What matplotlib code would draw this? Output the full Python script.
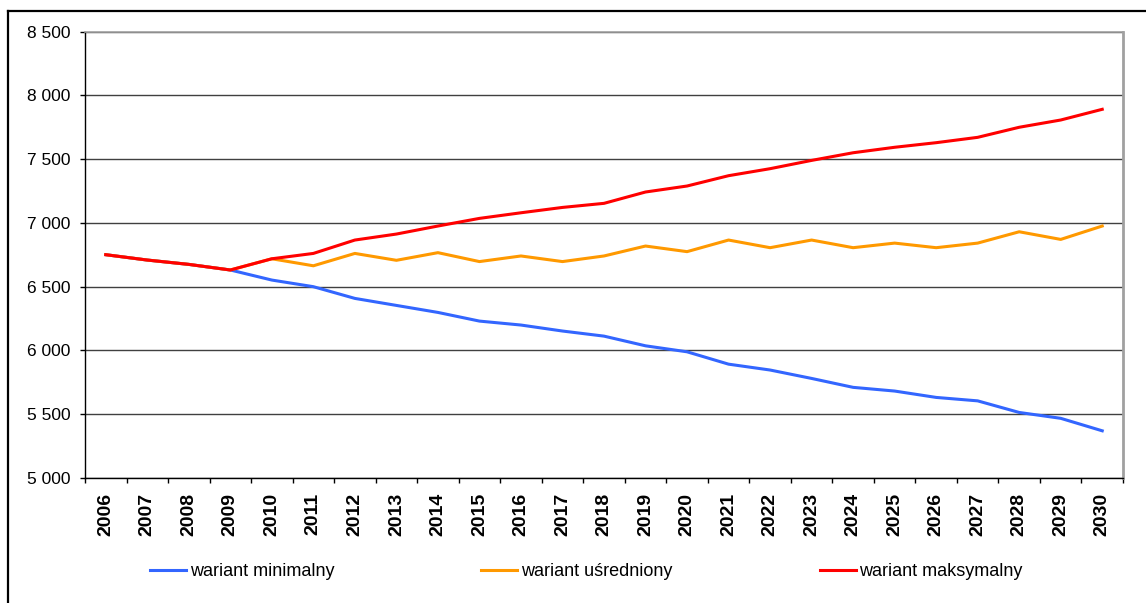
import matplotlib
matplotlib.use('Agg')
import matplotlib.pyplot as plt
from matplotlib.lines import Line2D
from matplotlib.ticker import FuncFormatter

plt.rcParams['font.family'] = ['Liberation Sans', 'DejaVu Sans']

years = [str(y) for y in range(2006, 2031)]
wariant_min = [6750, 6708, 6674, 6630, 6551, 6499, 6407, 6352, 6297, 6229, 6198, 6151, 6111,
               6035, 5988, 5891, 5845, 5779, 5709, 5680, 5630, 5603, 5512, 5466, 5368]
wariant_sr = [6750, 6708, 6674, 6630, 6718, 6663, 6760, 6706, 6766, 6696, 6740, 6696, 6740,
              6818, 6774, 6865, 6805, 6865, 6805, 6841, 6805, 6841, 6930, 6870, 6975]
wariant_max = [6750, 6708, 6674, 6630, 6718, 6760, 6865, 6912, 6975, 7035, 7079, 7121, 7153,
               7242, 7289, 7370, 7425, 7490, 7550, 7593, 7629, 7671, 7750, 7807, 7891]
labels = ['wariant minimalny', 'wariant uśredniony', 'wariant maksymalny']
kolory = ['#3366FF', '#FF9900', '#FF0000']

W, H = 1146, 603
fig = plt.figure(figsize=(W / 100, H / 100), dpi=100)
ax = fig.add_axes([85 / W, 1 - 477.7 / H, (1123 - 85) / W, (477.7 - 31.7) / H])

x = list(range(len(years)))
for serie, lab, kol in zip([wariant_min, wariant_sr, wariant_max], labels, kolory):
    ax.plot(x, serie, color=kol, lw=2.2, label=lab)

ax.set_xlim(-0.5, len(years) - 0.5)
ax.set_ylim(5000, 8500)
ax.set_yticks(range(5000, 8501, 500))
ax.yaxis.set_major_formatter(FuncFormatter(lambda v, p: f'{int(v):,}'.replace(',', ' ')))
ax.grid(axis='y', color='#404040', lw=1)
ax.set_axisbelow(True)

# kreski na granicach kategorii, etykiety na srodku
ax.set_xticks([i - 0.5 for i in range(len(years) + 1)])
ax.set_xticklabels([])
ax.set_xticks(x, minor=True)
ax.set_xticklabels(years, minor=True, rotation=90)
ax.tick_params(axis='x', which='major', length=3.6, width=1, color='black', direction='out')
ax.tick_params(axis='x', which='minor', length=0, pad=11, labelsize=14)
for t in ax.get_xticklabels(minor=True):
    t.set_fontweight('bold')
ax.tick_params(axis='y', length=3.6, width=1, pad=6.7, labelsize=12.5)

for s in ['left', 'bottom']:
    ax.spines[s].set_color('black')
    ax.spines[s].set_linewidth(1)
ax.spines['top'].set_color('#a0a0a0')
ax.spines['top'].set_linewidth(1.2)
ax.spines['right'].set_color('#a0a0a0')
ax.spines['right'].set_linewidth(2)

# ramka wykresu
fig.add_artist(Line2D([8 / W, 8 / W], [0, 1 - 11 / H], color='black', lw=1.6))
fig.add_artist(Line2D([8 / W, 1], [1 - 11 / H, 1 - 11 / H], color='black', lw=1.6))

fig.legend(loc='center left', bbox_to_anchor=(150 / W, 1 - 572 / H), ncol=3,
           frameon=False, fontsize=13, handlelength=2.0, handletextpad=0.2,
           columnspacing=8.15, borderpad=0, borderaxespad=0)

fig.savefig('out.png', dpi=100)
